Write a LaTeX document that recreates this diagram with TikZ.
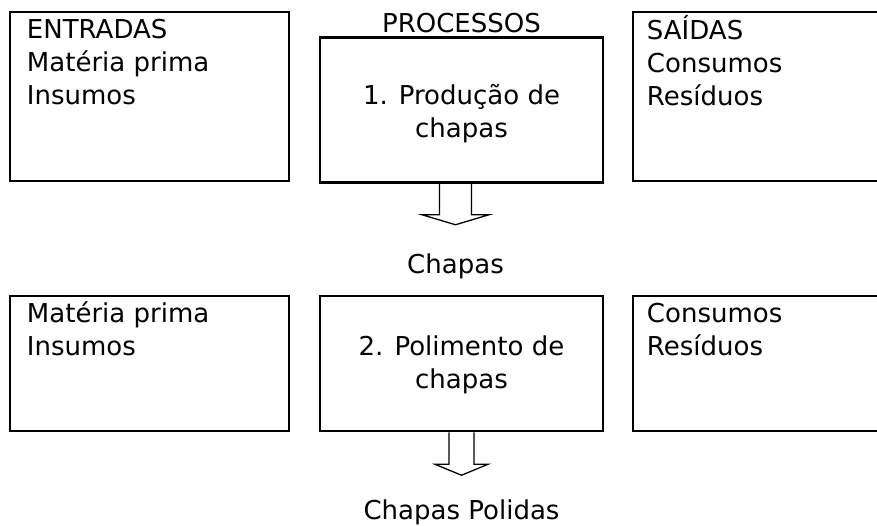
\documentclass[tikz,border=0pt]{standalone}
\usepackage{fontspec}
\setmainfont{DejaVu Sans}
\usetikzlibrary{positioning,calc}

\begin{document}
\begin{tikzpicture}[x=1pt,y=-1pt]
            \tikzstyle{caixa}=[rectangle, draw=black, line width=2.5pt, inner sep=0pt]
            \tikzstyle{texto}=[font=\fontsize{26}{33}\selectfont, inner sep=0pt, align=left]
            \tikzstyle{centro}=[font=\fontsize{26}{33}\selectfont, inner sep=0pt, align=center]
            \tikzstyle{rotulo}=[font=\fontsize{26}{33}\selectfont, inner sep=0pt, anchor=base]
            \tikzstyle{seta}=[line width=1.3pt, line join=miter]
            \useasboundingbox (0,0) rectangle (877,526);

            % first row
            \node[caixa, minimum width=279, minimum height=169] (E1) at (149.5,96.5){};
            \node[caixa, minimum width=283, minimum height=145] (P1) at (461.5,110){};
            \node[caixa, minimum width=247, minimum height=169] (S1) at (756.5,96.5){};
            \node[texto, below right=4pt and 18pt of E1.north west] (tE1){\strut ENTRADAS\\Matéria prima\\Insumos};
            \node[rotulo] (tPr) at ($(P1.north)+(0,-4)$){PROCESSOS};
            \node[centro, below=45pt of P1.north] (tP1){\strut 1. Produção de\\chapas};
            \node[texto, below right=4pt and 15pt of S1.north west] (tS1){\strut SAÍDAS\\Consumos\\Resíduos};

            % second row
            \node[caixa, minimum width=279, minimum height=135] (E2) at (149.5,363.5){};
            \node[caixa, minimum width=283, minimum height=135] (P2) at (461.5,363.5){};
            \node[caixa, minimum width=247, minimum height=135] (S2) at (756.5,363.5){};
            \node[texto, below right=4pt and 18pt of E2.north west] (tE2){\strut Matéria prima\\Insumos};
            \node[centro, below=37pt of P2.north] (tP2){\strut 2. Polimento de\\chapas};
            \node[texto, below right=4pt and 15pt of S2.north west] (tS2){\strut Consumos\\Resíduos};

            % block arrows
            \coordinate (a1) at ($(P1.south)+(-6,0)$);
            \coordinate (a2) at (P2.south);
            \draw[seta] ($(a1)+(-16,0)$) -- ++(0,31) -- ++(-17.5,0) -- ($(a1)+(0,41)$)
                -- ($(a1)+(33.5,31)$) -- ++(-17.5,0) -- ($(a1)+(16,0)$);
            \draw[seta] ($(a2)+(-12.5,0)$) -- ++(0,32) -- ++(-14,0) -- ($(a2)+(0,43)$)
                -- ($(a2)+(26.5,32)$) -- ++(-14,0) -- ($(a2)+(12.5,0)$);
            \node[rotulo] (chapas) at ($(a1)+(0,90)$){Chapas};
            \node[rotulo] (polidas) at ($(a2)+(0,87)$){Chapas Polidas};
\end{tikzpicture}
\end{document}
